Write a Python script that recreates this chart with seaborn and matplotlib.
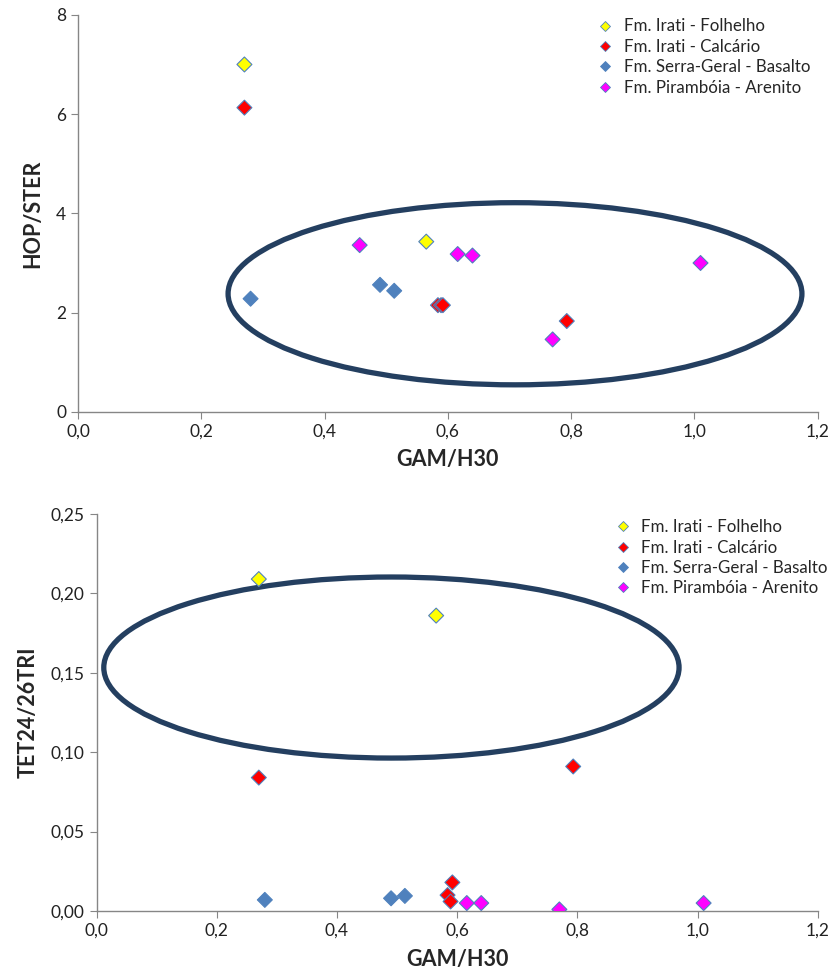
import seaborn as sns
import pandas as pd
import numpy as np
import matplotlib.pyplot as plt
from matplotlib.patches import Ellipse
from matplotlib.lines import Line2D
from matplotlib.ticker import FuncFormatter

# GAM/H30 per sample, grouped by formation
folhelho_x = [0.270, 0.565]
calcario_x = [0.270, 0.584, 0.589, 0.592, 0.793]
basalto_x = [0.280, 0.490, 0.513]
piramboia_x = [0.457, 0.616, 0.640, 0.770, 1.010]

# HOP/STER (top chart)
folhelho_hop = [7.00, 3.43]
calcario_hop = [6.13, 2.15, 2.15, 2.15, 1.83]
basalto_hop = [2.28, 2.56, 2.44]
piramboia_hop = [3.36, 3.18, 3.15, 1.46, 3.00]

# TET24/26TRI (bottom chart)
folhelho_tet = [0.209, 0.186]
calcario_tet = [0.084, 0.010, 0.006, 0.018, 0.091]
basalto_tet = [0.007, 0.008, 0.0095]
piramboia_tet = [np.nan, 0.005, 0.005, 0.001, 0.005]

groups = ['Fm. Irati - Folhelho', 'Fm. Irati - Calcário',
          'Fm. Serra-Geral - Basalto', 'Fm. Pirambóia - Arenito']
colors = ['#ffff00', '#ff0000', '#4f81bd', '#ff00ff']

df = pd.DataFrame({
    'grupo': [groups[0]] * 2 + [groups[1]] * 5 + [groups[2]] * 3 + [groups[3]] * 5,
    'GAM/H30': folhelho_x + calcario_x + basalto_x + piramboia_x,
    'HOP/STER': folhelho_hop + calcario_hop + basalto_hop + piramboia_hop,
    'TET24/26TRI': folhelho_tet + calcario_tet + basalto_tet + piramboia_tet,
})

sns.set_style('white')
plt.rcParams['font.family'] = ['Lato', 'DejaVu Sans']

fig = plt.figure(figsize=(8.32, 9.76), dpi=100)
ax1 = fig.add_axes([0.09375, 0.578, 0.889, 0.4068])
ax2 = fig.add_axes([0.116, 0.0666, 0.867, 0.4068])

comma = lambda d: FuncFormatter(lambda v, p: f'{v:.{d}f}'.replace('.', ','))

def draw(ax, ycol, ylim, yticks, ydec, ell, leg_xy):
    sns.scatterplot(data=df, x='GAM/H30', y=ycol, hue='grupo', palette=colors,
                    hue_order=groups, marker='D', s=58, edgecolor='#4f81bd',
                    linewidth=0.8, legend=False, ax=ax, zorder=3)
    ax.set_xlim(0, 1.2)
    ax.set_ylim(*ylim)
    ax.set_xticks(np.arange(0, 1.21, 0.2))
    ax.set_yticks(yticks)
    ax.xaxis.set_major_formatter(comma(1))
    ax.yaxis.set_major_formatter(comma(ydec))
    sns.despine(ax=ax)
    for s in ['left', 'bottom']:
        ax.spines[s].set_color('#868686')
        ax.spines[s].set_linewidth(1)
    ax.tick_params(direction='out', length=5, color='#868686', labelsize=12.5,
                   labelcolor='#222222', left=True, bottom=True)
    ax.set_xlabel('GAM/H30', fontsize=15.5, fontweight='bold', labelpad=7)
    ax.set_ylabel(ycol, fontsize=15.5, fontweight='bold', labelpad=9)
    ax.add_patch(Ellipse(ell[:2], ell[2], ell[3], fill=False, edgecolor='#243f60',
                         linewidth=3.8, clip_on=False, zorder=2))
    handles = [Line2D([], [], marker='D', ls='', markersize=5, markerfacecolor=c,
                      markeredgecolor='#4f81bd', markeredgewidth=0.6) for c in colors]
    ax.legend(handles, groups, loc='upper left', bbox_to_anchor=leg_xy,
              bbox_transform=fig.transFigure, frameon=False, fontsize=12.2,
              handletextpad=0.3, labelspacing=0.26, borderaxespad=0,
              handlelength=1.6)

draw(ax1, 'HOP/STER', (0, 8), [0, 2, 4, 6, 8], 0,
     (0.709, 2.38, 0.931, 3.67), (0.703, 0.988))
draw(ax2, 'TET24/26TRI', (0, 0.25), np.arange(0, 0.251, 0.05), 2,
     (0.4906, 0.1533, 0.957, 0.114), (0.724, 0.475))

fig.savefig('out.png', dpi=100)
